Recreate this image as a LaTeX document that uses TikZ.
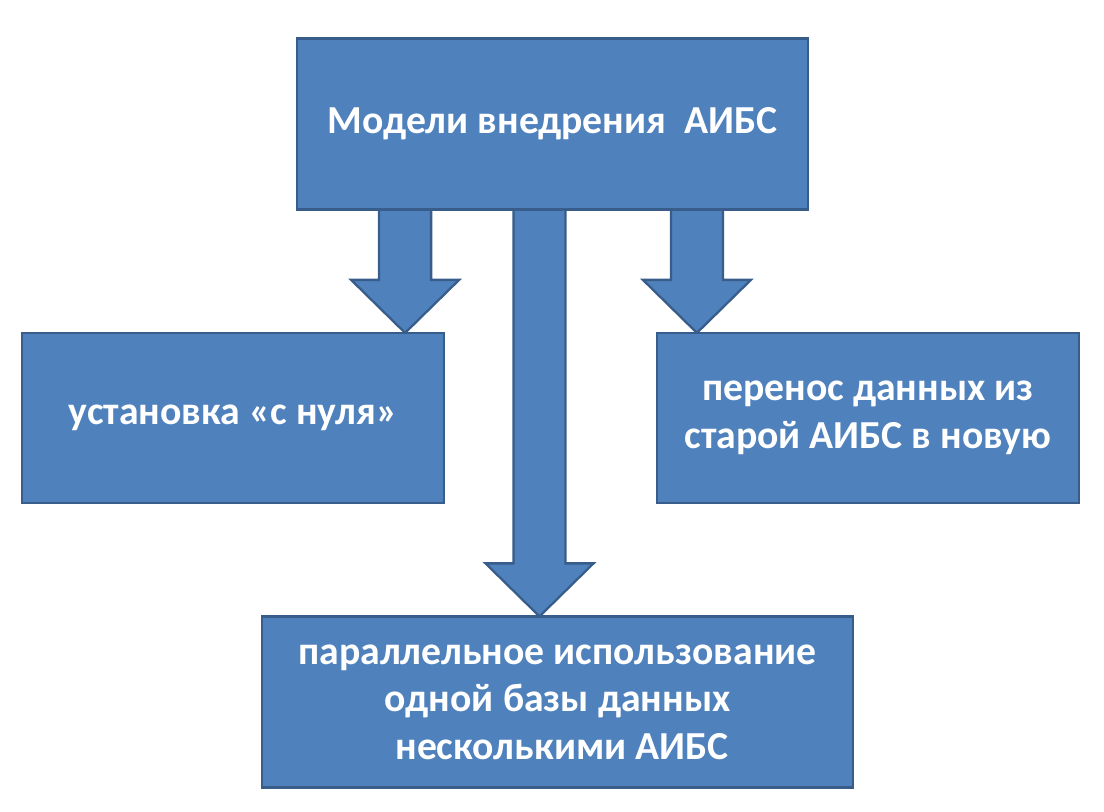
\documentclass[tikz,border=0pt]{standalone}
\usepackage{fontspec}
\setmainfont{Carlito}
\usetikzlibrary{calc, backgrounds}
\definecolor{boxfill}{HTML}{4F81BD}
\definecolor{boxline}{HTML}{385D8A}

\begin{document}
\begin{tikzpicture}[x=0.02cm, y=-0.02cm,
  every node/.style={rectangle, draw=boxline, fill=boxfill, line width=1.3pt,
    text=white, align=center, inner sep=0pt,
    font=\bfseries\fontsize{22.6}{27}\selectfont},
  blockarrow/.style={draw=boxline, fill=boxfill, line width=1.3pt, line join=miter}]
\useasboundingbox (0,0) rectangle (1104,811);

% Define the boxes
\node[minimum width=10.22cm, minimum height=3.42cm] (Model) at (552.5,124) {Модели внедрения\ \ АИБС};
\node[minimum width=8.44cm, minimum height=3.4cm] (Scratch) at (233,418) {установка «с нуля»};
\node[minimum width=8.44cm, minimum height=3.4cm] (Transfer) at (868,418) {перенос данных из\\старой АИБС в новую};
\node[minimum width=11.82cm, minimum height=3.42cm] (Shared) at (557.5,702) {параллельное использование\\одной базы данных\\\ несколькими АИБС};

% Tips of the block arrows
\coordinate (TipS) at ($(Scratch.north east)+(-40,0)$);
\coordinate (TipT) at ($(Transfer.north west)+(41,0)$);
\coordinate (TipP) at ($(Shared.north)+(-18,0)$);

% Draw block arrows from the top box to the three boxes
\begin{scope}[on background layer]
\foreach \t in {TipS, TipT, TipP}
  \draw[blockarrow] ($(\t |- Model.south)+(-26,-4)$) -- ($(\t)+(-26,-52)$) -- ($(\t)+(-54,-52)$)
    -- ($(\t)+(0,1)$) -- ($(\t)+(54,-52)$) -- ($(\t)+(26,-52)$) -- ($(\t |- Model.south)+(26,-4)$) -- cycle;
\end{scope}
\end{tikzpicture}
\end{document}
